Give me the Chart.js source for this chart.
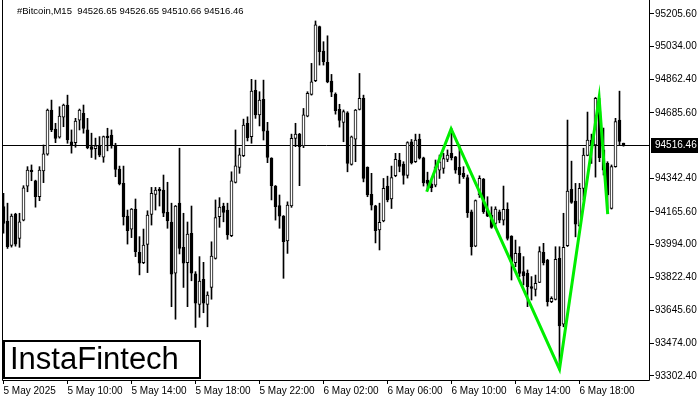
<!DOCTYPE html>
<html>
<head>
<meta charset="utf-8">
<script src="https://cdn.jsdelivr.net/npm/chart.js@4/dist/chart.umd.min.js"></script>
<style>
  html, body { margin: 0; padding: 0; background: #fff; }
  canvas { display: block; }
</style>
</head>
<body>
<canvas id="chart" width="700" height="400"></canvas>
<script>
// M15 candles, 5 May 06:00 -> 6 May ~20:45
const opens = [94193,94117,93989,94154,94026,94122,94301,94385,94329,94245,
 94380,94468,94701,94601,94558,94663,94727,94534,94529,94648,
 94684,94596,94508,94497,94512,94453,94564,94569,94517,94390,
 94316,94143,94074,94180,93953,93898,93994,94152,94257,94285,
 94280,94163,94112,93843,94211,93979,93898,94053,93839,93679,
 93811,93679,93768,93921,94140,94196,94175,94040,94320,94399,
 94461,94631,94561,94804,94675,94757,94592,94448,94301,94199,
 94143,94013,94196,94552,94574,94512,94669,94783,94855,95140,
 95011,94952,94853,94785,94704,94636,94686,94415,94548,94704,
 94762,94399,94257,94197,94070,94118,94301,94233,94355,94438,
 94417,94357,94534,94429,94548,94450,94333,94312,94306,94385,
 94394,94441,94473,94455,94399,94368,94345,94166,93985,94254,
 94338,94175,94148,94105,94166,94122,94178,94038,93898,93947,
 93851,93842,93772,93758,93795,93953,93912,93693,93705,93921,
 93575,93987,94284,94222,94092,94289,94462,94543,94517,94692,
 94491,94420,94184,94403,94648,94526.65];
const highs = [94263,94211,94154,94158,94158,94303,94403,94412,94332,94403,
 94517,94706,94753,94631,94718,94732,94779,94596,94657,94706,
 94727,94657,94579,94553,94561,94564,94605,94596,94526,94406,
 94406,94175,94183,94233,94035,94075,94171,94294,94294,94294,
 94359,94321,94211,94199,94500,94158,94112,94196,93851,93930,
 93900,93745,94008,94228,94240,94211,94211,94376,94596,94500,
 94653,94665,94862,94858,94797,94858,94636,94450,94304,94254,
 94146,94218,94574,94631,94578,94709,94797,94946,95169,95142,
 95060,95091,94888,94791,94731,94701,94692,94564,94704,94893,
 94779,94402,94368,94200,94211,94341,94353,94406,94473,94473,
 94429,94534,94546,94574,94574,94453,94374,94329,94438,94464,
 94473,94491,94604,94457,94517,94403,94359,94175,94228,94355,
 94341,94245,94192,94192,94175,94301,94213,94040,94017,93982,
 93930,93860,93825,93833,93982,94000,93916,93719,93982,93982,
 94158,94648,94432,94315,94315,94500,94690,94574,94767,94762,
 94606,94429,94412,94657,94800,94526.65];
const lows = [94053,93973,93980,93985,93979,94118,94271,94329,94190,94224,
 94319,94463,94587,94529,94553,94613,94526,94474,94505,94596,
 94579,94497,94451,94442,94455,94426,94486,94500,94350,94307,
 94096,93996,94030,93930,93834,93893,93846,94096,94175,94196,
 94140,94079,93667,93601,93944,93768,93667,93803,93558,93611,
 93635,93561,93706,93917,94084,94113,94021,94035,94317,94368,
 94456,94538,94526,94657,94617,94543,94424,94228,94122,94079,
 93816,93947,94189,94508,94303,94503,94665,94779,94850,94937,
 94937,94844,94771,94679,94611,94534,94376,94411,94429,94701,
 94323,94245,94175,94002,93965,94113,94218,94183,94350,94376,
 94311,94343,94417,94425,94443,94301,94280,94271,94297,94341,
 94368,94429,94438,94368,94315,94341,94136,93938,93982,94241,
 94157,94140,94079,94079,94108,94096,94017,93807,93877,93824,
 93781,93667,93702,93723,93793,93886,93670,93688,93702,93334,
 93561,93983,94210,94034,94087,94228,94460,94420,94348,94429,
 94359,94175,94180,94400,94517,94510.66];
const closes = [94105,93982,94143,93996,94113,94292,94385,94376,94245,94385,
 94470,94701,94596,94552,94669,94727,94543,94517,94643,94701,
 94604,94503,94494,94513,94463,94561,94555,94517,94389,94312,
 94140,94066,94180,93956,93895,93991,94149,94263,94280,94276,
 94158,94118,93838,94196,93973,93895,94049,93843,93685,93802,
 93685,93728,93933,94135,94190,94163,94044,94328,94408,94465,
 94622,94555,94801,94675,94753,94590,94451,94303,94192,94143,
 94008,94201,94552,94574,94508,94675,94788,94849,95148,95007,
 94955,94849,94794,94697,94646,94692,94420,94560,94701,94762,
 94341,94254,94201,94066,94110,94289,94228,94346,94441,94404,
 94357,94529,94423,94543,94448,94318,94315,94293,94402,94429,
 94446,94464,94450,94385,94359,94350,94161,93982,94224,94341,
 94166,94143,94084,94180,94122,94178,94026,93903,93947,93842,
 93828,93772,93763,93789,93956,93898,93693,93711,93916,93566,
 93979,94275,94215,94101,94289,94464,94543,94517,94762,94450,
 94385,94254,94403,94640,94536,94516.46];

// pattern outline (bar index, price)
const patternX = [106.8, 112.9, 140, 149.9, 152.05];
const patternY = [94271, 94601, 93338, 94765, 94153];

const xTickIdx = [1, 17, 33, 49, 65, 81, 97, 113, 129, 145];
const xTickLabels = ['5 May 2025', '5 May 10:00', '5 May 14:00', '5 May 18:00', '5 May 22:00',
  '6 May 02:00', '6 May 06:00', '6 May 10:00', '6 May 14:00', '6 May 18:00'];
const yTickValues = [95205.60, 95034.00, 94862.40, 94685.60, 94342.40, 94165.60,
  93994.00, 93822.40, 93645.60, 93474.00, 93302.40];

const titleText = '#Bitcoin,M15  94526.65 94526.65 94510.66 94516.46';
const lastPrice = closes[closes.length - 1];
const FONT = 'Liberation Sans';

const decor = {
  id: 'decor',
  beforeDatasetsDraw(chart) {
    const { ctx, chartArea: a } = chart;
    const y = Math.round(chart.scales.y.getPixelForValue(lastPrice)) + 0.5;
    ctx.save();
    ctx.strokeStyle = '#000';
    ctx.lineWidth = 1;
    ctx.beginPath();
    ctx.moveTo(a.left, y);
    ctx.lineTo(a.right, y);
    ctx.stroke();
    ctx.restore();
  },
  afterDraw(chart) {
    const { ctx, chartArea: a } = chart;
    ctx.save();
    // frame
    ctx.strokeStyle = '#000';
    ctx.lineWidth = 1;
    ctx.beginPath();
    ctx.moveTo(a.left - 0.5, a.top);
    ctx.lineTo(a.left - 0.5, a.bottom - 0.5);
    ctx.lineTo(a.right - 0.5, a.bottom - 0.5);
    ctx.lineTo(a.right - 0.5, a.top);
    ctx.stroke();

    // current price label
    const y = Math.round(chart.scales.y.getPixelForValue(lastPrice));
    ctx.fillStyle = '#000';
    ctx.fillRect(a.right + 1, y - 7, 47, 15);
    ctx.fillStyle = '#fff';
    ctx.font = '10px "' + FONT + '"';
    ctx.textBaseline = 'middle';
    ctx.textAlign = 'left';
    ctx.fillText(lastPrice.toFixed(2), a.right + 5, y + 0.5);

    // title
    ctx.fillStyle = '#000';
    ctx.font = '9.5px "' + FONT + '"';
    ctx.fillText(titleText, 17, 11);

    // logo
    ctx.fillStyle = '#fff';
    ctx.fillRect(3, 340, 198, 39);
    ctx.lineWidth = 2;
    ctx.strokeRect(4, 341, 196, 37);
    ctx.fillStyle = '#000';
    ctx.font = '31px "' + FONT + '"';
    ctx.fillText('InstaFintech', 10, 360);
    ctx.restore();
  }
};

new Chart(document.getElementById('chart'), {
  type: 'bar',
  data: {
    datasets: [
      {
        type: 'line',
        data: patternX.map((x, i) => ({ x: x, y: patternY[i] })),
        borderColor: '#00ee00',
        borderWidth: 3,
        pointRadius: 0,
        tension: 0,
        order: 0
      },
      {
        data: opens.map((o, i) => ({ x: i + 1, y: [o, closes[i]] })),
        backgroundColor: opens.map((o, i) => closes[i] >= o ? '#fff' : '#000'),
        borderColor: '#000',
        borderWidth: 1,
        borderSkipped: false,
        barThickness: 3,
        grouped: false,
        order: 1
      },
      {
        data: highs.map((h, i) => ({ x: i + 1, y: [lows[i], h] })),
        backgroundColor: '#000',
        borderWidth: 0,
        barThickness: 1,
        grouped: false,
        order: 2
      }
    ]
  },
  options: {
    responsive: false,
    animation: false,
    devicePixelRatio: 1,
    layout: { padding: { left: 3, top: 0, right: 0, bottom: 0 } },
    plugins: { legend: { display: false }, tooltip: { enabled: false } },
    scales: {
      x: {
        type: 'linear',
        min: 0.875,
        max: 162.625,
        offset: false,
        afterBuildTicks: s => { s.ticks = xTickIdx.map(v => ({ value: v })); },
        afterFit: s => { s.height = 19; s.paddingLeft = 0; s.paddingRight = 0; },
        grid: { offset: false, drawOnChartArea: false, drawTicks: true, tickLength: 3, color: '#000' },
        border: { display: false },
        ticks: {
          autoSkip: false,
          maxRotation: 0,
          align: 'start',
          padding: 1,
          color: '#000',
          font: { family: FONT, size: 10 },
          callback: v => xTickLabels[xTickIdx.indexOf(v)]
        }
      },
      y: {
        position: 'right',
        min: 93276.1,
        max: 95279.2,
        afterBuildTicks: s => { s.ticks = yTickValues.map(v => ({ value: v })); },
        afterFit: s => { s.width = 50; s.paddingTop = 0; s.paddingBottom = 0; },
        grid: { drawOnChartArea: false, drawTicks: true, tickLength: 4, color: '#000' },
        border: { display: false },
        ticks: {
          padding: 1,
          color: '#000',
          font: { family: FONT, size: 10 },
          callback: v => v.toFixed(2)
        }
      }
    }
  },
  plugins: [decor]
});
</script>
</body>
</html>
